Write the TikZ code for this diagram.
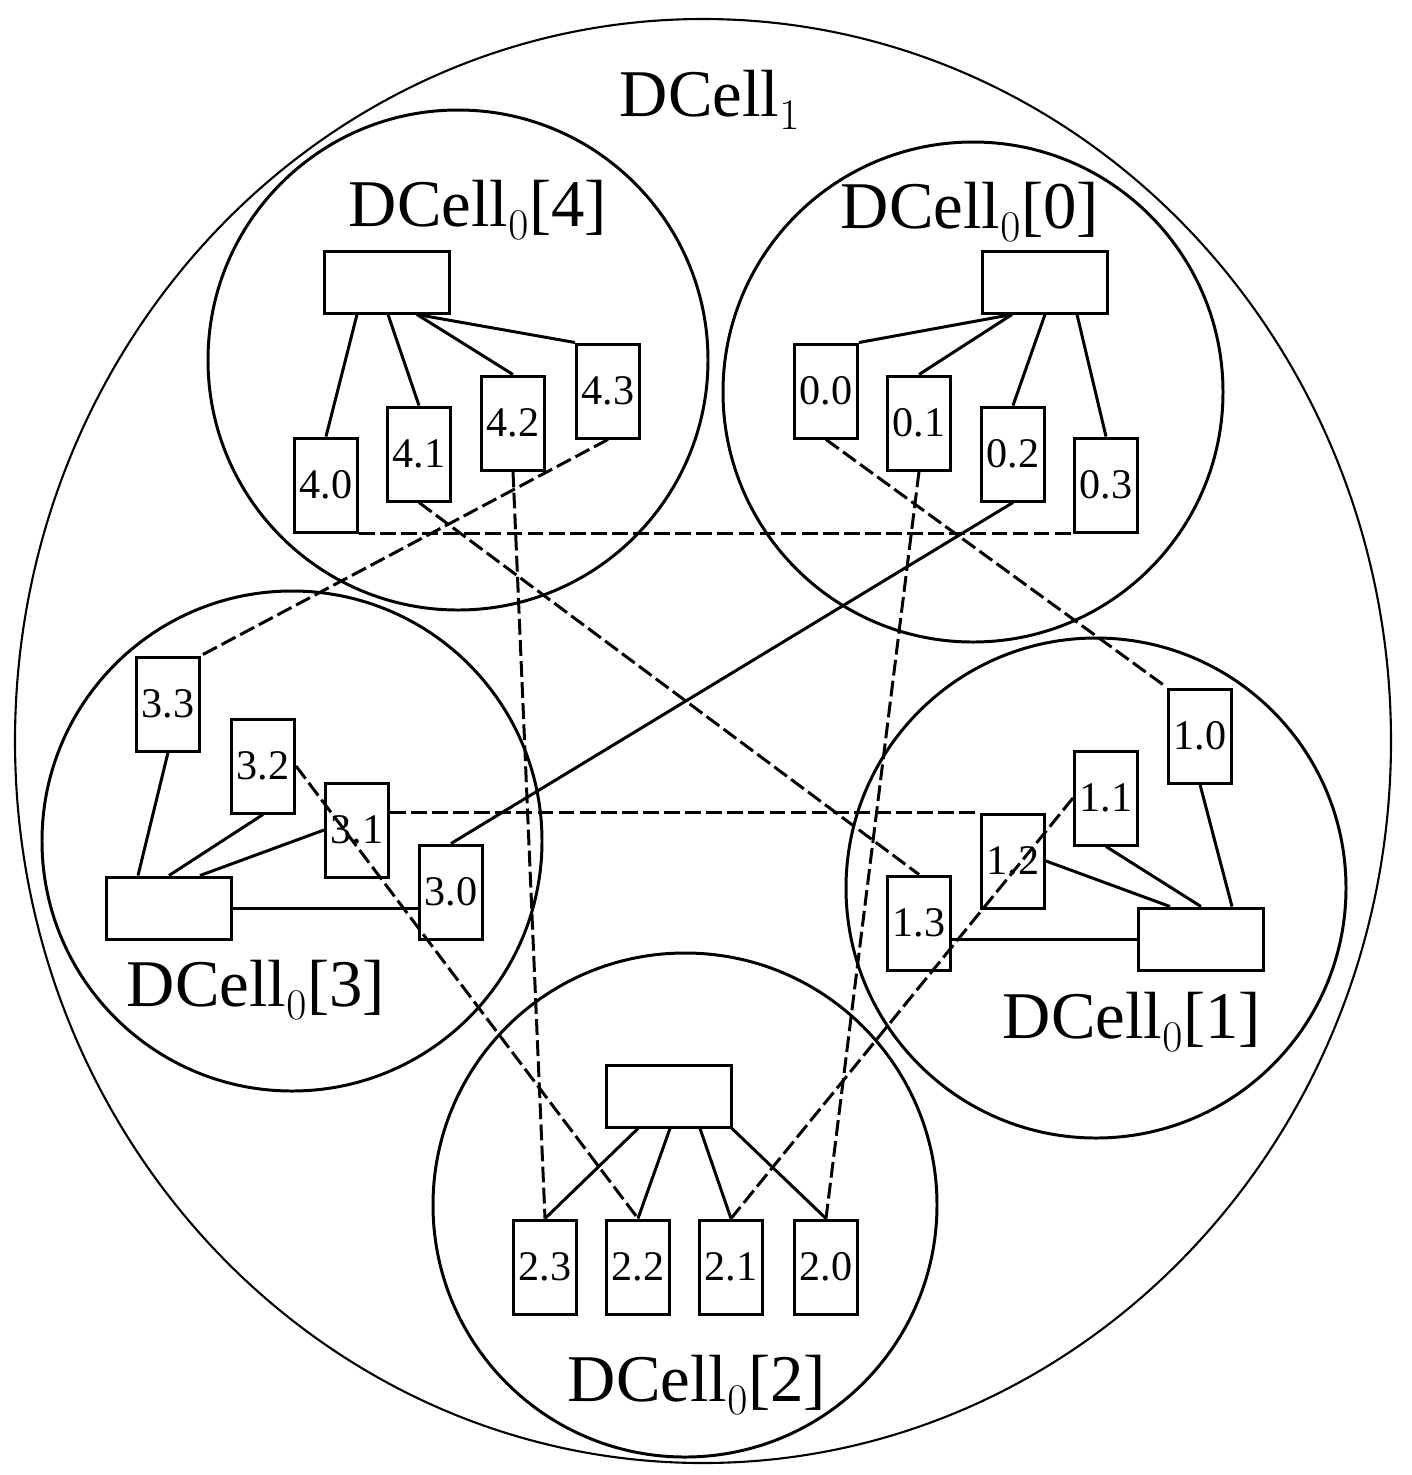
\documentclass[tikz,border=0pt]{standalone}
\usepackage{fontspec}
\setmainfont{Liberation Serif}
\begin{document}
\begin{tikzpicture}[x=0.02cm,y=-0.02cm,line width=1.7pt,
 big/.style={font=\fontsize{38}{40}\selectfont,inner sep=0},
 srv/.style={draw,minimum width=63*0.02cm,minimum height=94*0.02cm,inner sep=0,font=\fontsize{24}{26}\selectfont},
 sw/.style={draw,minimum width=125*0.02cm,minimum height=62*0.02cm,inner sep=0},
 dl/.style={dash pattern=on 9pt off 3pt}]
\useasboundingbox (0,0) rectangle (1412,1475);
\draw[line width=1.2pt] (703,741) ellipse [x radius=688,y radius=722];
\draw (458,360) circle [radius=250];
\draw (973,392) circle [radius=250];
\draw (292,841) circle [radius=250];
\draw (1096,888) circle [radius=250];
\draw (685,1205) circle [radius=252];
\node[big] (L1) at (710,100) {DCell$_1$};
\node[big] (L4) at (478,210) {DCell$_0$[4]};
\node[big] (L0) at (970,212) {DCell$_0$[0]};
\node[big] (L3) at (256,990) {DCell$_0$[3]};
\node[big] (Lb) at (1132,1022) {DCell$_0$[1]};
\node[big] (L2) at (697,1385) {DCell$_0$[2]};
% switches
\node[sw] (S4) at (387,282) {};
\node[sw] (S0) at (1045,282) {};
\node[sw] (S3) at (169,908) {};
\node[sw] (S1) at (1201,939) {};
\node[sw] (S2) at (669,1096) {};
% servers
\node[srv] (n40) at (326,485) {4.0};
\node[srv] (n41) at (419,454) {4.1};
\node[srv] (n42) at (513,423) {4.2};
\node[srv] (n43) at (608,391) {4.3};
\node[srv] (n00) at (826,391) {0.0};
\node[srv] (n01) at (919,423) {0.1};
\node[srv] (n02) at (1013,454) {0.2};
\node[srv] (n03) at (1106,485) {0.3};
\node[srv] (n33) at (168,704) {3.3};
\node[srv] (n32) at (263,766) {3.2};
\node[srv] (n31) at (357,830) {3.1};
\node[srv] (n30) at (451,892) {3.0};
\node[srv] (n10) at (1200,736) {1.0};
\node[srv] (n11) at (1106,798) {1.1};
\node[srv] (n12) at (1013,861) {1.2};
\node[srv] (n13) at (919,923) {1.3};
\node[srv] (n23) at (545,1267) {2.3};
\node[srv] (n22) at (638,1267) {2.2};
\node[srv] (n21) at (731,1267) {2.1};
\node[srv] (n20) at (826,1267) {2.0};
% switch links
\draw ([xshift=-30*0.02cm]S4.south) -- (n40.north);
\draw ([xshift=1*0.02cm]S4.south) -- (n41.north);
\draw ([xshift=30*0.02cm]S4.south) -- (n42.north);
\draw ([xshift=30*0.02cm]S4.south) -- (n43.north west);
\draw ([xshift=-33*0.02cm]S0.south) -- (n00.north east);
\draw ([xshift=-33*0.02cm]S0.south) -- (n01.north);
\draw (S0.south) -- (n02.north);
\draw ([xshift=32*0.02cm]S0.south) -- (n03.north);
\draw ([xshift=-31*0.02cm]S3.north) -- (n33.south);
\draw (S3.north) -- (n32.south);
\draw ([xshift=31*0.02cm]S3.north) -- (n31.west);
\draw (S3.east) -- (n30.west |- S3.east);
\draw ([xshift=31*0.02cm]S1.north) -- (n10.south);
\draw (S1.north) -- (n11.south);
\draw ([xshift=-31*0.02cm]S1.north) -- (n12.east);
\draw (S1.west) -- (n13.east |- S1.west);
\draw ([xshift=-31*0.02cm]S2.south) -- (n23.north);
\draw ([xshift=1*0.02cm]S2.south) -- (n22.north);
\draw ([xshift=31*0.02cm]S2.south) -- (n21.north);
\draw ([xshift=63*0.02cm]S2.south) -- (n20.north);
% inter-cell links
\draw[dl] (n40.south east) -- (n03.south west);
\draw[dl] (n41.south) -- (n13.north);
\draw[dl] (n42.south) -- (n23.north);
\draw[dl] (n43.south) -- (n33.north east);
\draw[dl] (n00.south) -- (n10.north west);
\draw[dl] (n01.south) -- (n20.north);
\draw (n02.south) -- (n30.north);
\draw[dl] (n11.west) -- (n21.north);
\draw[dl] (n31.east |- n12.north west) -- (n12.north west);
\draw[dl] (n32.east) -- (n22.north);
\end{tikzpicture}
\end{document}
